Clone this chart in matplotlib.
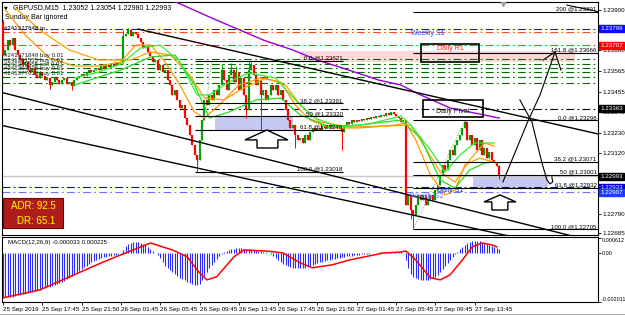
import matplotlib
matplotlib.use("Agg")
import matplotlib.pyplot as plt
import matplotlib.transforms as mtransforms
import numpy as np
from matplotlib.patches import Polygon, Rectangle

# ---------------------------------------------------------------------------
# Data  (prices in 5-digit points: 23655 -> 1.23655)
# ---------------------------------------------------------------------------
first_open = 23835
close_pts = [
    23655, 23682, 23736, 23709, 23747, 23682, 23655, 23628, 23600, 23617,
    23573, 23562, 23584, 23546, 23529, 23562, 23540, 23519, 23529, 23491,
    23508, 23529, 23519, 23497, 23519, 23529, 23497, 23508, 23486, 23519,
    23529, 23540, 23551, 23540, 23562, 23573, 23562, 23573, 23584, 23573,
    23595, 23584, 23600, 23589, 23606, 23595, 23617, 23606, 23611, 23758,
    23769, 23791, 23758, 23780, 23769, 23747, 23726, 23693, 23704, 23671,
    23649, 23617, 23628, 23573, 23600, 23562, 23573, 23519, 23491, 23437,
    23464, 23410, 23366, 23382, 23311, 23273, 23219, 23164, 23110, 23083,
    23192, 23300, 23410, 23382, 23437, 23410, 23464, 23437, 23491, 23573,
    23519, 23464, 23546, 23573, 23508, 23562, 23464, 23529, 23437, 23355,
    23573, 23600, 23546, 23491, 23519, 23437, 23464, 23410, 23437, 23491,
    23464, 23491, 23437, 23464, 23410, 23355, 23300, 23257, 23273, 23219,
    23192, 23202, 23175, 23219, 23192, 23235, 23257, 23246, 23257, 23246,
    23268, 23257, 23273, 23262, 23279, 23268, 23273, 23257, 23235, 23273,
    23290, 23279, 23300, 23290, 23300, 23295, 23306, 23300, 23311, 23306,
    23317, 23311, 23322, 23317, 23328, 23322, 23339, 23328, 23344, 23333,
    23322, 23311, 23290, 23300, 22837, 22892, 22810, 22783, 22837, 22892,
    22865, 22892, 22837, 22865, 22892, 22865, 22919, 22946, 23001, 23055,
    23028, 23083, 23137, 23110, 23164, 23192, 23219, 23257, 23290, 23192,
    23219, 23164, 23202, 23137, 23192, 23110, 23148, 23093, 23126, 23083,
    23072, 23052, 22993,
]
wick_high = {0: 23846, 49: 23791, 51: 23802, 89: 23606, 93: 23611, 95: 23595,
             100: 23621, 101: 23617, 188: 23298, 202: 23054}
wick_low = {19: 23470, 28: 23464, 79: 23018, 99: 23311, 105: 23246, 119: 23148,
            138: 23137, 166: 22760, 167: 22705, 202: 22980}

# moving averages (bar index, price points)
purple_x = [66, 84, 106, 118, 128, 137, 153, 162, 170, 182, 194, 202]
purple_p = [23970, 23862, 23736, 23682, 23627, 23589, 23518, 23491, 23437, 23366, 23333, 23311]
green1_x = [29, 39, 48, 56, 64, 72, 79, 84, 92, 100, 111, 119, 127, 137, 149, 162, 166, 174, 180, 186, 192, 200]
green1_p = [23529, 23562, 23606, 23693, 23709, 23617, 23437, 23437, 23508, 23557, 23529, 23410, 23311,
            23262, 23279, 23322, 23273, 23137, 23017, 23110, 23175, 23175]
green2_x = [29, 48, 60, 70, 78, 84, 92, 103, 113, 121, 133, 145, 162, 170, 178, 184, 190, 196, 200]
green2_p = [23491, 23573, 23644, 23655, 23491, 23311, 23344, 23410, 23420, 23328, 23262, 23273, 23300,
            23202, 22973, 22930, 23028, 23066, 23072]
orange1_x = [1, 9, 19, 29, 39, 48, 54, 60, 66, 72, 78, 82, 88, 96, 105, 113, 119, 125, 133, 145, 160,
             164, 168, 174, 180, 184, 188, 194, 201]
orange1_p = [23900, 23764, 23638, 23595, 23595, 23617, 23709, 23709, 23617, 23491, 23344, 23311, 23382,
             23491, 23529, 23508, 23382, 23300, 23257, 23257, 23273, 23284, 23192, 23001, 22892, 22919,
             23055, 23093, 23066]
orange2_x = [5, 15, 27, 39, 52, 60, 68, 76, 82, 90, 98, 107, 115, 121, 129, 141, 157, 166, 172, 178, 184,
             190, 196, 200]
orange2_p = [23911, 23791, 23682, 23628, 23628, 23671, 23655, 23546, 23420, 23410, 23475, 23529, 23491,
             23382, 23290, 23262, 23268, 23273, 23148, 23017, 22962, 23083, 23175, 23159]

# horizontal levels
level_prices = [1.23799, 1.23780, 1.23707, 1.23363, 1.22933, 1.22907]
level_colors = ["#1010ff", "#ff4a1a", "#ff3a3a", "#000000", "#0000ff", "#7070ff"]
order_prices = [1.23633, 1.23606, 1.23584, 1.23562, 1.23535, 1.23502]
order_labels = ["#241371848 buy 0.01", "#241381555 buy 0.01", "#241383555 sell 0.01",
                "#241397835 buy 0.01", "#241377019 buy 0.01"]
bid_price = 1.22993

fib_l_names = ["0.0", "38.2", "50", "61.8", "100.0"]
fib_l_prices = [1.23621, 1.23391, 1.23320, 1.23248, 1.23018]
fib_r_names = ["200", "161.8", "0.0", "38.2", "50", "61.8", "100.0"]
fib_r_prices = [1.23891, 1.23666, 1.23298, 1.23071, 1.23001, 1.22932, 1.22705]

box_prices = [1.23799, 1.23707, 1.23363, 1.22993, 1.22933, 1.22907]
box_colors = ["#0a0aff", "#ff0000", "#000000", "#000000", "#0000c8", "#1e3cff"]
tick_prices = [1.22685, 1.22790, 1.23120, 1.23230, 1.23345, 1.23455,
               1.23565, 1.23680, 1.23900]

# MACD (units of 1e-5)
macd_hist = [
    -180, -180, -180, -180, -180, -176, -172, -172, -168, -168, -164, -160, -160,
    -156, -152, -152, -148, -144, -140, -140, -135, -131, -127, -123, -119,
    -115, -107, -102, -94, -90, -82, -74, -66, -57, -53, -45, -37,
    -33, -29, -25, -20, -16, -16, -12, -12, -8, -8, -4, -4,
    12, 29, 37, 41, 45, 45, 45, 41, 37, 33, 25, 16,
    8, 0, -8, -20, -37, -53, -61, -70, -78, -86, -94, -102,
    -107, -111, -119, -123, -127, -131, -131, -127, -111, -94, -78, -61,
    -49, -37, -25, -12, -4, 4, 8, 12, 16, 16, 20, 20,
    20, 16, 16, 16, 16, 12, 12, 8, 8, 4, 4, 0,
    -4, -12, -20, -29, -37, -45, -49, -53, -57, -61, -61, -61,
    -61, -61, -61, -57, -53, -49, -45, -41, -37, -37, -33, -29,
    -29, -25, -25, -20, -20, -16, -16, -12, -12, -12, -8, -8,
    -8, -4, -4, -4, -4, 0, 0, 0, 2, 2, 3, 3, 4, 4, 4, 4,
    4, 4, 0,
    -29, -61, -86, -98, -102, -107, -111, -111, -111, -111, -107, -102,
    -98, -90, -78, -66, -53, -41, -29, -16, -4, 4, 16, 25,
    33, 41, 45, 49, 49, 49, 49, 45, 41, 37, 33, 29,
    25, 20, 16,
]
sig_x = [0, 15, 26, 40, 46, 50, 60, 69, 75, 80, 83, 87, 94, 98, 107, 114, 121, 126, 134, 141, 155,
         162, 164, 168, 174, 178, 182, 187, 191, 195, 199, 201]
sig_v = [-185, -152, -103, -41, -16, 0, 41, 12, -16, -82, -111, -98, -16, 12, 8, 0, -41, -61, -49,
         -29, 0, 4, 8, -29, -102, -111, -90, -29, 25, 41, 33, 25]

time_labels = ["25 Sep 2019", "25 Sep 17:45", "25 Sep 21:50", "26 Sep 01:45", "26 Sep 05:45",
               "26 Sep 09:45", "26 Sep 13:45", "26 Sep 17:45", "26 Sep 21:50", "27 Sep 01:45",
               "27 Sep 05:45", "27 Sep 09:45", "27 Sep 13:45"]


def px(points):
    return 1 + np.asarray(points, dtype=float) / 1e5


# ---------------------------------------------------------------------------
# Figure
# ---------------------------------------------------------------------------
plt.rcParams["font.family"] = "Liberation Sans"
W, H = 625, 317
fig = plt.figure(figsize=(W / 100, H / 100), dpi=100)
ax = fig.add_axes([2 / W, 1 - 235 / H, 596 / W, 233 / H])
axm = fig.add_axes([2 / W, 1 - 302 / H, 596 / W, 65 / H])
XMIN, XMAX = -0.4, 242.2
FS = 5.0      # general text
FSS = 4.4     # small object labels
FSA = 4.5     # axis labels
DASHDOT = (0, (7, 3, 1.5, 3))

for a in (ax, axm):
    a.set_xlim(XMIN, XMAX)
    for s in a.spines.values():
        s.set_linewidth(0.8)
ax.set_ylim(1.2267375, 1.239436)

# --- levels ----------------------------------------------------------------
for p, c in zip(level_prices, level_colors):
    ax.axhline(p, color=c, lw=0.8, ls=DASHDOT, zorder=1)
for p in order_prices:
    ax.axhline(p, color="#006e00", lw=0.8, ls=DASHDOT, zorder=1)
ax.axhline(bid_price, color="#c8c8c8", lw=1.0, zorder=1)

# pink zone / blue zones
ax.add_patch(Rectangle((121, 1.23617), 112, 0.0006, fc="#fbd8d8", ec="none", zorder=0))
ax.add_patch(Rectangle((86.3, fib_l_prices[3]), 31.7, fib_l_prices[2] - fib_l_prices[3],
                       fc="#c6c8f2", ec="none", zorder=0))
ax.add_patch(Rectangle((191.3, fib_r_prices[5]), 30.5, fib_r_prices[4] - fib_r_prices[5],
                       fc="#c6c8f2", ec="none", zorder=0))

# --- candles ---------------------------------------------------------------
close = px(close_pts)
opens = np.r_[px(first_open), close[:-1]]
highs = np.maximum(opens, close)
lows = np.minimum(opens, close)
for k, v in wick_high.items():
    highs[k] = max(highs[k], px(v))
for k, v in wick_low.items():
    lows[k] = min(lows[k], px(v))
idx = np.arange(len(close))
cols = np.where(close >= opens, "#00a000", "#ff0000")
ax.vlines(idx, lows, highs, colors=cols, lw=0.7, zorder=3)
ax.vlines(idx, np.minimum(opens, close), np.maximum(opens, close), colors=cols, lw=1.6, zorder=3)

# --- moving averages -------------------------------------------------------
ax.plot(purple_x, px(purple_p), color="#9a00d8", lw=1.0, zorder=4)
ax.plot(orange2_x, px(orange2_p), color="#ffa000", lw=0.9, zorder=4)
ax.plot(orange1_x, px(orange1_p), color="#ff9a00", lw=0.9, zorder=4)
ax.plot(green2_x, px(green2_p), color="#22dd22", lw=0.9, zorder=4)
ax.plot(green1_x, px(green1_p), color="#33ee33", lw=0.9, zorder=4)

# --- trendlines ------------------------------------------------------------
ax.plot([55, 243], px([23796, 23222]), color="black", lw=1.0, zorder=5)
ax.plot([-1.2, 243], px([23453, 22630]), color="black", lw=1.0, zorder=5)
ax.plot([-1.2, 243], px([23273, 22560]), color="black", lw=1.0, zorder=5)
ax.plot([229.5, 243], px([23927, 23889]), color="black", lw=0.8, zorder=5)

# --- fibonacci -------------------------------------------------------------
ax.plot([79, 85], [fib_l_prices[4], fib_l_prices[0]], color="#909090", lw=0.7, ls=":", zorder=5)
ax.plot([167, 188], [fib_r_prices[6], fib_r_prices[2]], color="#909090", lw=0.7, ls=":", zorder=5)
ax.hlines(fib_l_prices, 78, 138.4, color="black", lw=0.8, zorder=5)
ax.hlines(fib_r_prices, 166.9, XMAX, color="black", lw=0.8, zorder=5)
for n, p in zip(fib_l_names, fib_l_prices):
    ax.text(138.2, p + 0.00002, f"{n} @{p:.5f}", fontsize=FSS, ha="right", va="bottom", zorder=6)
for n, p in zip(fib_r_names, fib_r_prices):
    ax.text(241.6, p + 0.00002, f"{n} @{p:.5f}", fontsize=FSS, ha="right", va="bottom", zorder=6)

# --- boxes and labels ------------------------------------------------------
ax.add_patch(Rectangle((170.1, 1.23617), 23.6, 0.00098, fc="none", ec="black", lw=1.2, zorder=6))
ax.add_patch(Rectangle((171, 1.23317), 24.4, 0.00093, fc="none", ec="black", lw=1.2, zorder=6))
ax.text(182, 1.23690, "Daily R1", color="#ff2020", fontsize=FS, ha="center", va="center", zorder=7)
ax.text(183, 1.23346, "Daily Pivot", color="#202020", fontsize=FS, ha="center", va="center", zorder=7)
ax.text(166, 1.23773, "Weekly S1", color="#2040ff", fontsize=FS, ha="left", va="center", zorder=7)
ax.text(176.6, 1.22919, "Daily S1", color="#1030ff", fontsize=FS, ha="left", va="center", zorder=7)
ax.text(165.7, 1.22882, "Weekly S2", color="#6a6aff", fontsize=FS, ha="left", va="center", zorder=7)

# hollow arrows
ax.add_patch(Polygon([(107.4, 1.23246), (98.5, 1.23192), (103.4, 1.23192), (103.4, 1.23148),
                      (111.9, 1.23148), (111.9, 1.23192), (116, 1.23192)],
                     closed=True, fc="white", ec="black", lw=1.0, zorder=6))
ax.add_patch(Polygon([(202.3, 1.22892), (195.8, 1.22854), (199, 1.22854), (199, 1.22810),
                      (205.5, 1.22810), (205.5, 1.22854), (208.8, 1.22854)],
                     closed=True, fc="white", ec="black", lw=1.0, zorder=6))

# hand drawn path
ax.plot([203.5, 213.7, 218.6, 224.7], px([22963, 23295, 23437, 23671]), color="black", lw=0.8, zorder=6)
ax.plot([219.8, 224.7, 227.1], px([23627, 23671, 23573]), color="black", lw=0.8, zorder=6)
ax.plot([210.4, 215.3, 219.4, 221.4, 222.6, 223.8, 223.4],
        px([23410, 23290, 23066, 22974, 22952, 22963, 22990]), color="black", lw=0.8, zorder=6)

# order labels
ax.text(0.5, 1.23785, "#241377848 tp", fontsize=FSS, va="bottom", zorder=7)
for p, lab in zip(order_prices, order_labels):
    ax.text(0.5, p + 0.00004, lab, fontsize=FSS, va="bottom", color="#202020", zorder=7)

# header
ax.text(0.004, 0.985, "\u25bc", transform=ax.transAxes, fontsize=3.5, va="top",
        family="DejaVu Sans")
ax.text(0.018, 0.99, "GBPUSD,M15  1.23052 1.23054 1.22980 1.22993", transform=ax.transAxes,
        fontsize=FS, va="top")
ax.text(0.005, 0.95, "Sunday Bar ignored", transform=ax.transAxes, fontsize=FS, va="top")
ax.plot([203.5], [1.23933], marker="v", color="#a0a0a0", ms=3, zorder=7)

# ADR box
ax.add_patch(Rectangle((0.002, 0.03), 0.1, 0.13, transform=ax.transAxes, fc="#b01c1c",
                       ec="#7a0000", lw=0.8, zorder=7))
ax.text(0.053, 0.125, "ADR: 92.5", transform=ax.transAxes, fontsize=7, color="#ffff00",
        ha="center", va="center", zorder=8)
ax.text(0.058, 0.06, "DR: 65.1", transform=ax.transAxes, fontsize=7, color="#ffff00",
        ha="center", va="center", zorder=8)

# --- price axis ------------------------------------------------------------
ax.yaxis.tick_right()
ax.set_yticks(tick_prices)
ax.set_yticklabels([f"{p:.5f}" for p in tick_prices])
ax.tick_params(axis="y", labelsize=FSA, length=2, pad=1, width=0.6)
ax.tick_params(axis="x", bottom=False, labelbottom=False)
trans = mtransforms.blended_transform_factory(ax.transAxes, ax.transData)
for p, c in zip(box_prices, box_colors):
    ax.text(1.004, p, f"{p:.5f}", transform=trans, fontsize=FSA, color="white", ha="left",
            va="center", bbox=dict(boxstyle="square,pad=0.18", fc=c, ec=c), clip_on=False, zorder=9)

# --- MACD ------------------------------------------------------------------
hist = np.asarray(macd_hist) / 1e5
axm.vlines(idx, 0, hist, colors="#2a2aff", lw=0.8)
axm.plot(sig_x, np.asarray(sig_v) / 1e5, color="#ff0000", lw=1.1)
axm.set_ylim(-0.00202, 0.000656)
axm.yaxis.tick_right()
axm.set_yticks([-0.002011, 0.0, 0.000612])
axm.set_yticklabels(["-0.002011", "0.00", "0.000612"])
axm.tick_params(axis="y", labelsize=3.9, length=2, pad=0.8, width=0.6)
ylabs = axm.get_yticklabels()
ylabs[0].set_va("bottom")
ylabs[2].set_va("top")
axm.text(0.01, 0.96, "MACD(12,26,9) -0.000033 0.000225", transform=axm.transAxes, fontsize=FSS,
         va="top")
axm.set_xticks(np.arange(0, 16 * len(time_labels), 16))
axm.set_xticklabels(time_labels)
axm.tick_params(axis="x", labelsize=FSA, length=2, pad=1.5, width=0.6)
for lbl in axm.get_xticklabels():
    lbl.set_ha("left")

fig.add_artist(plt.Line2D([0, 1], [3 / H, 3 / H], color="#b0b0b0", lw=0.8))

fig.savefig("out.png", dpi=100)
